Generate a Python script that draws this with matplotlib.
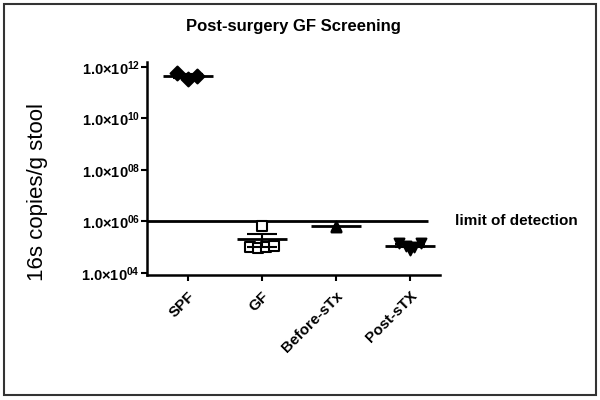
import numpy as np
import matplotlib.pyplot as plt

plt.rcParams['font.family'] = ['Liberation Sans', 'DejaVu Sans']
plt.rcParams['mathtext.fontset'] = 'custom'
plt.rcParams['mathtext.rm'] = 'Liberation Sans'
plt.rcParams['mathtext.bf'] = 'Liberation Sans:bold'

# values (16s copies / g stool)
groups = ['SPF', 'GF', 'Before-sTx', 'Post-sTX']
spf = [5.8e11, 3.3e11, 4.6e11]
gf = [6.4e5, 1.0e5, 0.9e5, 1.0e5, 1.1e5]
before_stx = [6.2e5, 6.6e5]
post_stx = [1.4e5, 1.1e5, 0.75e5, 1.0e5, 1.5e5]
limit = 1e6
yticks = [1e4, 1e6, 1e8, 1e10, 1e12]
ytick_labels = ['04', '06', '08', '10', '12']

data = [spf, gf, before_stx, post_stx]
markers = ['D', 's', '^', 'v']
faces = ['black', 'white', 'black', 'black']
# horizontal spread of overlapping points
offsets = [[-0.15, 0.0, 0.12],
           [0.0, -0.16, -0.05, 0.06, 0.16],
           [0.0, 0.0],
           [-0.15, -0.05, 0.0, 0.05, 0.15]]

fig = plt.figure(figsize=(6, 4), dpi=100)
ax = fig.add_axes([0.245, 0.3125, 0.488, 0.5325])

for i, vals in enumerate(data):
    vals = np.array(vals)
    xs = i + np.array(offsets[i])
    ax.scatter(xs, vals, marker=markers[i], s=50, facecolor=faces[i],
               edgecolor='black', linewidth=1.5, zorder=3)
    m = vals.mean()
    ax.hlines(m, i - 0.34, i + 0.34, color='black', lw=2, zorder=4)
    if len(vals) > 2:
        sem = vals.std(ddof=1) / np.sqrt(len(vals))
        ax.errorbar(i, m, yerr=[[min(sem, m * 0.5)], [sem]], fmt='none',
                    ecolor='black', elinewidth=1.5, capsize=11, capthick=1.5,
                    zorder=4)

ax.hlines(limit, -0.55, 3.24, color='black', lw=2)
ax.text(3.61, limit, 'limit of detection', fontsize=11, fontweight='bold',
        va='center', ha='left')

ax.set_yscale('log')
ax.set_ylim(10 ** 3.92, 10 ** 12.19)
ax.set_xlim(-0.55, 3.4)
ax.set_yticks(yticks)
ax.set_yticklabels([r'$\mathbf{1.0{\times}10^{%s}}$' % t for t in ytick_labels],
                   fontsize=10.5)
ax.minorticks_off()
ax.set_xticks(range(len(groups)))
ax.set_xticklabels(groups, rotation=45, ha='right', rotation_mode='anchor',
                   fontsize=11, fontweight='bold')
ax.tick_params(width=1.5, length=4)
ax.tick_params(axis='x', pad=6)
ax.tick_params(axis='y', pad=1)

for s in ['top', 'right']:
    ax.spines[s].set_visible(False)
for s in ['left', 'bottom']:
    ax.spines[s].set_linewidth(1.8)

ax.set_title('Post-surgery GF Screening', fontsize=12, fontweight='bold', pad=22)
fig.text(0.062, 0.52, '16s copies/g stool', rotation=90, fontsize=16,
         va='center', ha='center')

fig.add_artist(plt.Rectangle((0.006, 0.012), 0.988, 0.978, fill=False,
                             edgecolor='#333333', lw=1.5,
                             transform=fig.transFigure))

fig.savefig('out.png', dpi=100)
